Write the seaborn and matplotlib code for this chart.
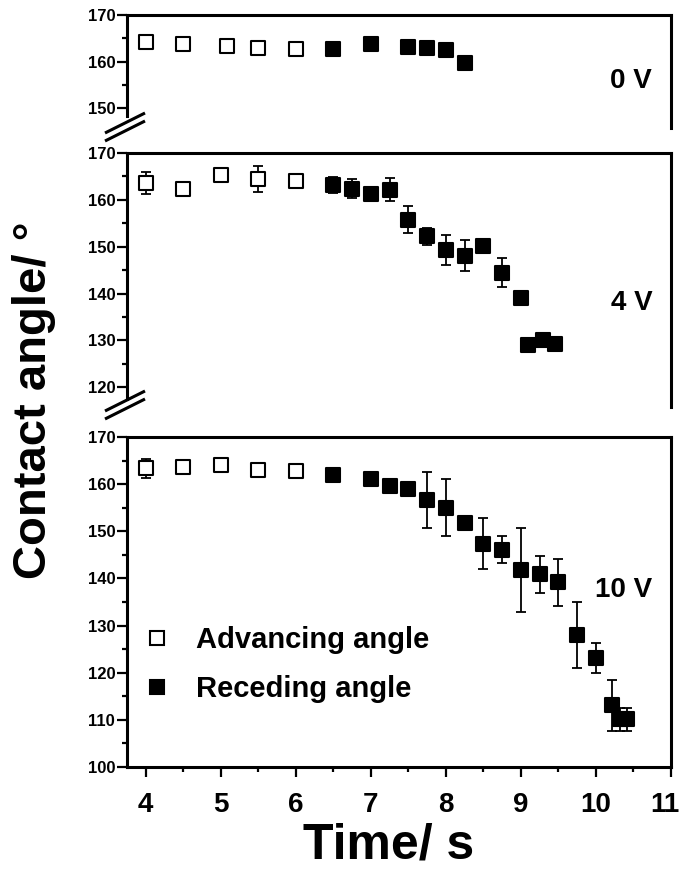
import numpy as np
import pandas as pd
import matplotlib
matplotlib.use("Agg")
import matplotlib.pyplot as plt
import matplotlib.transforms as mtransforms
import seaborn as sns
from matplotlib.lines import Line2D
from matplotlib.ticker import MultipleLocator

# ---------------- data ----------------
# 0 V
adv_t0 = [4.0, 4.5, 5.08, 5.5, 6.0]
adv_y0 = [164.1, 163.7, 163.4, 163.0, 162.7]
adv_e0 = [0.5, 0.4, 0.6, 0.6, 0.5]
rec_t0 = [6.5, 7.0, 7.5, 7.75, 8.0, 8.25]
rec_y0 = [162.6, 163.7, 163.1, 163.0, 162.5, 159.6]
rec_e0 = [0.6, 0.5, 0.5, 0.5, 0.6, 0.5]

# 4 V
adv_t4 = [4.0, 4.5, 5.0, 5.5, 6.0]
adv_y4 = [163.6, 162.3, 165.2, 164.5, 164.0]
adv_e4 = [2.3, 0.5, 0.7, 2.8, 0.7]
rec_t4 = [6.5, 6.75, 7.0, 7.25, 7.5, 7.75, 8.0, 8.25, 8.5, 8.75, 9.0, 9.1, 9.3, 9.45]
rec_y4 = [163.1, 162.4, 161.3, 162.2, 155.8, 152.2, 149.4, 148.1, 150.1, 144.5,
          139.1, 129.1, 130.1, 129.3]
rec_e4 = [1.7, 2.0, 1.5, 2.4, 2.8, 1.8, 3.2, 3.3, 0.3, 3.2, 0.5, 0.8, 1.4, 1.0]

# 10 V
adv_t10 = [4.0, 4.5, 5.0, 5.5, 6.0]
adv_y10 = [163.4, 163.6, 164.0, 163.0, 162.8]
adv_e10 = [2.0, 0.7, 0.7, 0.5, 0.7]
rec_t10 = [6.5, 7.0, 7.25, 7.5, 7.75, 8.0, 8.25, 8.5, 8.75, 9.0, 9.25, 9.5, 9.75,
           10.0, 10.22, 10.32, 10.42]
rec_y10 = [162.0, 161.1, 159.6, 159.0, 156.6, 155.0, 151.8, 147.4, 146.1, 141.7,
           140.9, 139.2, 127.9, 123.1, 113.1, 110.1, 110.1]
rec_e10 = [0.5, 0.5, 0.4, 1.5, 6.0, 6.0, 1.5, 5.4, 2.9, 8.9, 3.9, 5.0, 7.0,
           3.2, 5.4, 2.4, 2.4]

panel_labels = ["0 V", "4 V", "10 V"]
legend_labels = ["Advancing angle", "Receding angle"]
x_ticks = [4, 5, 6, 7, 8, 9, 10, 11]

# ---------------- style ----------------
sns.set_style("ticks")
plt.rcParams["font.family"] = ["Liberation Sans", "DejaVu Sans"]
plt.rcParams["font.weight"] = "bold"
plt.rcParams["axes.labelweight"] = "bold"
for k in ["text.color", "axes.labelcolor", "xtick.color", "ytick.color",
          "axes.edgecolor"]:
    plt.rcParams[k] = "black"

W, H = 680, 875
fig = plt.figure(figsize=(W / 100, H / 100), dpi=100)


def ax_at(l, t, r, b):
    return fig.add_axes([l / W, 1 - b / H, (r - l) / W, (b - t) / H])


panels = [
    dict(box=(127, 15, 671, 128), ylim=(145.7, 170), left_lo=148.2,
         adv=(adv_t0, adv_y0, adv_e0), rec=(rec_t0, rec_y0, rec_e0),
         lab_y=155.9, brk=(127, 126)),
    dict(box=(127, 153, 671, 407), ylim=(115.8, 170), left_lo=117.5,
         adv=(adv_t4, adv_y4, adv_e4), rec=(rec_t4, rec_y4, rec_e4),
         lab_y=138.0, brk=(127, 404)),
    dict(box=(127, 437, 671, 767), ylim=(100, 170), left_lo=None,
         adv=(adv_t10, adv_y10, adv_e10), rec=(rec_t10, rec_y10, rec_e10),
         lab_y=137.5, brk=None),
]

LW = 2.2
axes = []
for i, p in enumerate(panels):
    ax = ax_at(*p["box"])
    axes.append(ax)
    for kind, (t, y, e) in (("adv", p["adv"]), ("rec", p["rec"])):
        ax.errorbar(t, y, yerr=e, fmt="none", ecolor="black", elinewidth=1.3,
                    capsize=3.6, capthick=1.3, zorder=2)
        df = pd.DataFrame({"t": t, "y": y})
        sns.scatterplot(data=df, x="t", y="y", ax=ax, marker="s", s=95,
                        color="white" if kind == "adv" else "black",
                        edgecolor="black", linewidth=1.5, zorder=3, legend=False)
    ax.set_xlim(3.75, 11)
    ax.set_ylim(*p["ylim"])
    ax.set_xlabel("")
    ax.set_ylabel("")
    ax.yaxis.set_major_locator(MultipleLocator(10))
    ax.yaxis.set_minor_locator(MultipleLocator(5))
    ax.tick_params(axis="y", which="major", direction="out", length=7, width=1.6,
                   labelsize=12, pad=1.5)
    ax.tick_params(axis="y", which="minor", direction="out", length=3.5, width=1.6)
    for s in ["left", "right", "top", "bottom"]:
        ax.spines[s].set_linewidth(LW)
        ax.spines[s].set_color("black")
    if p["left_lo"] is not None:
        ax.spines["bottom"].set_visible(False)
        ax.spines["left"].set_bounds(p["left_lo"], p["ylim"][1])
        ax.tick_params(axis="x", which="both", bottom=False, labelbottom=False)
    else:
        ax.xaxis.set_minor_locator(MultipleLocator(0.5))
        ax.set_xticks(x_ticks)
        ax.tick_params(axis="x", which="major", direction="out", length=7,
                       width=1.6, labelsize=20, pad=11)
        ax.tick_params(axis="x", which="minor", direction="out", length=3.5,
                       width=1.6)
    for lab in ax.get_yticklabels() + ax.get_xticklabels():
        lab.set_fontweight("bold")
    ax.text(10.75, p["lab_y"], panel_labels[i], ha="right", va="center",
            fontsize=20, fontweight="bold")
    # axis break marks
    if p["brk"] is not None:
        cx, cy = p["brk"]
        for off in (-4, 4):
            fig.add_artist(Line2D([(cx - 22) / W, (cx + 18) / W],
                                  [1 - (cy + 11 + off) / H, 1 - (cy - 9 + off) / H],
                                  transform=fig.transFigure, color="black",
                                  lw=2.2, solid_capstyle="butt"))

bottom = axes[-1]
# keep the last tick label ("11") inside the canvas
last = bottom.get_xticklabels()[-1]
last.set_transform(last.get_transform() +
                   mtransforms.ScaledTranslation(-6 / 100, 0, fig.dpi_scale_trans))

bottom.set_xlabel("Time/ s", fontsize=36, fontweight="bold")
bottom.xaxis.set_label_coords((389 - 127) / 544, (767 - 822) / 330)

fig.text(34 / W, 1 - 400 / H, "Contact angle/ °", rotation=90, ha="center",
         va="center", fontsize=34, fontweight="bold")

handles = [
    Line2D([], [], marker="s", ls="none", markersize=10, mfc="white",
           mec="black", mew=1.5, label=legend_labels[0]),
    Line2D([], [], marker="s", ls="none", markersize=10, mfc="black",
           mec="black", mew=1.5, label=legend_labels[1]),
]
leg = bottom.legend(handles=handles, loc="upper left",
                    bbox_to_anchor=((143 - 127) / 544, (767 - 626.5) / 330),
                    frameon=False, fontsize=21, handlelength=0.95,
                    handletextpad=0.85, labelspacing=0.71, borderpad=0,
                    borderaxespad=0)
for t in leg.get_texts():
    t.set_fontweight("bold")

fig.savefig("out.png", dpi=100, facecolor="white")
